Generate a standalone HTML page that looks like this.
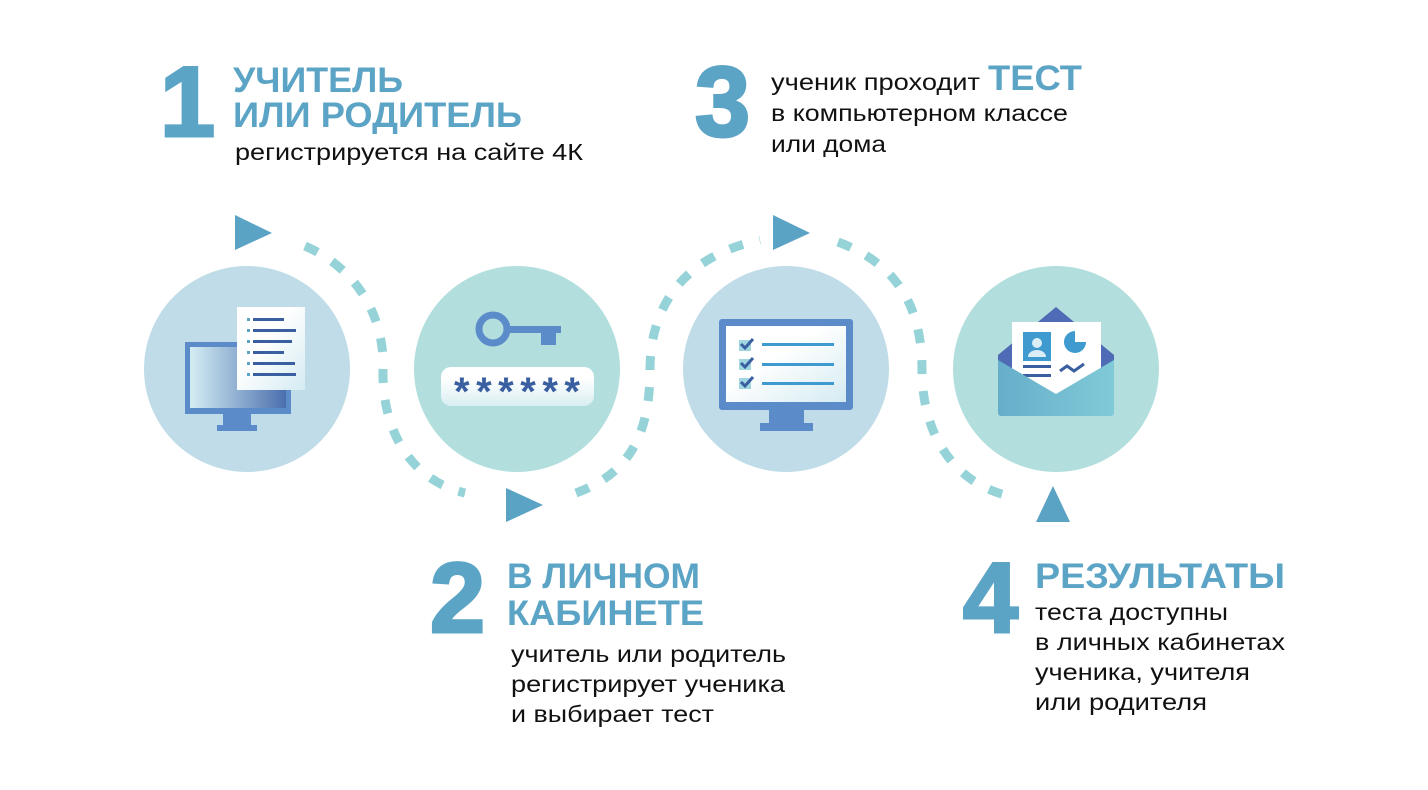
<!DOCTYPE html>
<html><head><meta charset="utf-8"><style>
html,body{margin:0;padding:0;background:#fff;}
svg{display:block}
text{font-family:"Liberation Sans","Noto Sans CJK SC",sans-serif}
.n{font-weight:bold;fill:#5ba4c6;font-size:99px;stroke:#5ba4c6;stroke-width:3}
.h{font-weight:bold;fill:#5ba4c6;font-size:35px}
.b{fill:#111;font-size:23px}
</style></head><body>
<svg width="1428" height="790" viewBox="0 0 1428 790" xmlns="http://www.w3.org/2000/svg">
<defs>
<linearGradient id="scr" x1="0" x2="1"><stop offset="0" stop-color="#d4edf4"/><stop offset="1" stop-color="#4a6fae"/></linearGradient>
<linearGradient id="pap" x1="0" y1="0" x2="1" y2="1"><stop offset="0.4" stop-color="#fff"/><stop offset="1" stop-color="#d4ebf2"/></linearGradient>
<linearGradient id="env" x1="0" x2="1"><stop offset="0" stop-color="#66aeca"/><stop offset="1" stop-color="#80cad8"/></linearGradient>
<linearGradient id="pw" x1="0" y1="0" x2="0" y2="1"><stop offset="0.3" stop-color="#fff"/><stop offset="1" stop-color="#d8eef2"/></linearGradient>
</defs>

<circle cx="247" cy="369" r="103" fill="#bfdce8"/>
<circle cx="517" cy="369" r="103" fill="#b2dfdd"/>
<circle cx="786" cy="369" r="103" fill="#bfdce8"/>
<circle cx="1056" cy="369" r="103" fill="#b2dfdd"/>

<g fill="none" stroke="#95d3d8" stroke-width="9" stroke-dasharray="14 17">
<path d="M305,246 C360,270 385,320 383,370 C382,430 410,480 465,493"/>
<path d="M576,493 C625,475 650,440 650,370 C650,300 690,255 760,240"/>
<path d="M838,242 C900,265 922,310 922,370 C922,430 950,480 1005,495"/>
</g>

<g fill="#5ba3c4">
<polygon points="235,215 272,233 235,250"/>
<polygon points="506,488 543,505 506,522"/>
<polygon points="773,215 810,233 773,250"/>
<polygon points="1036,522 1053,486 1070,522"/>
</g>

<rect x="185" y="342" width="106" height="72" fill="#5b8cc9"/>
<rect x="190" y="347" width="96" height="61" fill="url(#scr)"/>
<rect x="223" y="414" width="28" height="16" fill="#5b8cc9"/>
<rect x="217" y="425" width="40" height="6" fill="#5b8cc9"/>
<rect x="237" y="307" width="68" height="83" fill="url(#pap)"/>
<g fill="#3a5fa0">
<rect x="253" y="318" width="31" height="3"/><rect x="253" y="329" width="43" height="3"/><rect x="253" y="340" width="39" height="3"/>
<rect x="253" y="351" width="31" height="3"/><rect x="253" y="362" width="42" height="3"/><rect x="253" y="373" width="43" height="3"/>
</g>
<g fill="#5ba4c6">
<rect x="247" y="318" width="3" height="3"/><rect x="247" y="329" width="3" height="3"/><rect x="247" y="340" width="3" height="3"/>
<rect x="247" y="351" width="3" height="3"/><rect x="247" y="362" width="3" height="3"/><rect x="247" y="373" width="3" height="3"/>
</g>

<circle cx="493" cy="329" r="14" fill="none" stroke="#5b8cc9" stroke-width="7"/>
<rect x="506" y="326" width="55" height="7" fill="#5b8cc9"/>
<rect x="541" y="326" width="15" height="19" fill="#5b8cc9"/>
<rect x="441" y="367" width="153" height="39" rx="10" fill="url(#pw)"/>
<text x="454" y="405" font-size="40" font-weight="bold" fill="#3a5fa0" textLength="126" lengthAdjust="spacing">******</text>

<rect x="719" y="319" width="134" height="91" rx="3" fill="#5b8cc9"/>
<rect x="726" y="326" width="120" height="76" fill="url(#pap)"/>
<rect x="769" y="410" width="35" height="14" fill="#5b8cc9"/>
<rect x="760" y="423" width="53" height="8" fill="#5b8cc9"/>
<g fill="#9fd6df"><rect x="739" y="340" width="12" height="11"/><rect x="739" y="359" width="12" height="11"/><rect x="739" y="378" width="12" height="11"/></g>
<g fill="none" stroke="#3a5fa0" stroke-width="3"><path d="M741,344 l4,4 l8,-9"/><path d="M741,363 l4,4 l8,-9"/><path d="M741,382 l4,4 l8,-9"/></g>
<g fill="#3f9ad0"><rect x="762" y="343" width="72" height="3"/><rect x="762" y="363" width="72" height="3"/><rect x="762" y="382" width="72" height="3"/></g>

<path d="M998,355 L1056,307 L1114,355 L1114,410 L998,410 Z" fill="#4f6bb5"/>
<rect x="1012" y="322" width="89" height="75" fill="#fff"/>
<rect x="1023" y="332" width="28" height="29" fill="#3f9ad0"/>
<circle cx="1037" cy="343" r="5" fill="#dbeef5"/>
<path d="M1028,357 a9,7 0 0 1 18,0 z" fill="#dbeef5"/>
<rect x="1023" y="365" width="28" height="3" fill="#3a5fa0"/>
<rect x="1023" y="374" width="28" height="3" fill="#3a5fa0"/>
<path d="M1075,331 a11,11 0 1 0 11,11 l-11,0 z" fill="#3f9ad0"/>
<path d="M1060,371 l7,-5 l7,5 l10,-7" fill="none" stroke="#3a5fa0" stroke-width="3"/>
<path d="M998,360 L1056,394 L1114,360 L1114,413 a3,3 0 0 1 -3,3 L1001,416 a3,3 0 0 1 -3,-3 Z" fill="url(#env)"/>

<text class="n" x="160" y="136">1</text>
<text class="h" x="233" y="92" textLength="170" lengthAdjust="spacingAndGlyphs">УЧИТЕЛЬ</text>
<text class="h" x="233" y="127" textLength="289" lengthAdjust="spacingAndGlyphs">ИЛИ РОДИТЕЛЬ</text>
<text class="b" x="235" y="160" textLength="348" lengthAdjust="spacingAndGlyphs">регистрируется на сайте 4К</text>

<text class="n" x="430" y="632">2</text>
<text class="h" x="507" y="588" textLength="193" lengthAdjust="spacingAndGlyphs">В ЛИЧНОМ</text>
<text class="h" x="507" y="625" textLength="197" lengthAdjust="spacingAndGlyphs">КАБИНЕТЕ</text>
<text class="b" x="511" y="662" textLength="275" lengthAdjust="spacingAndGlyphs">учитель или родитель</text>
<text class="b" x="511" y="692" textLength="274" lengthAdjust="spacingAndGlyphs">регистрирует ученика</text>
<text class="b" x="511" y="722" textLength="203" lengthAdjust="spacingAndGlyphs">и выбирает тест</text>

<text class="n" x="695" y="136">3</text>
<text class="b" x="771" y="90" textLength="209" lengthAdjust="spacingAndGlyphs">ученик проходит</text>
<text class="h" x="988" y="90" textLength="94" lengthAdjust="spacingAndGlyphs">ТЕСТ</text>
<text class="b" x="771" y="121" textLength="297" lengthAdjust="spacingAndGlyphs">в компьютерном классе</text>
<text class="b" x="771" y="152" textLength="115" lengthAdjust="spacingAndGlyphs">или дома</text>

<text class="n" x="963" y="632">4</text>
<text class="h" x="1035" y="588" textLength="250" lengthAdjust="spacingAndGlyphs">РЕЗУЛЬТАТЫ</text>
<text class="b" x="1035" y="620" textLength="193" lengthAdjust="spacingAndGlyphs">теста доступны</text>
<text class="b" x="1035" y="650" textLength="250" lengthAdjust="spacingAndGlyphs">в личных кабинетах</text>
<text class="b" x="1035" y="680" textLength="215" lengthAdjust="spacingAndGlyphs">ученика, учителя</text>
<text class="b" x="1035" y="710" textLength="172" lengthAdjust="spacingAndGlyphs">или родителя</text>
</svg>
</body></html>
